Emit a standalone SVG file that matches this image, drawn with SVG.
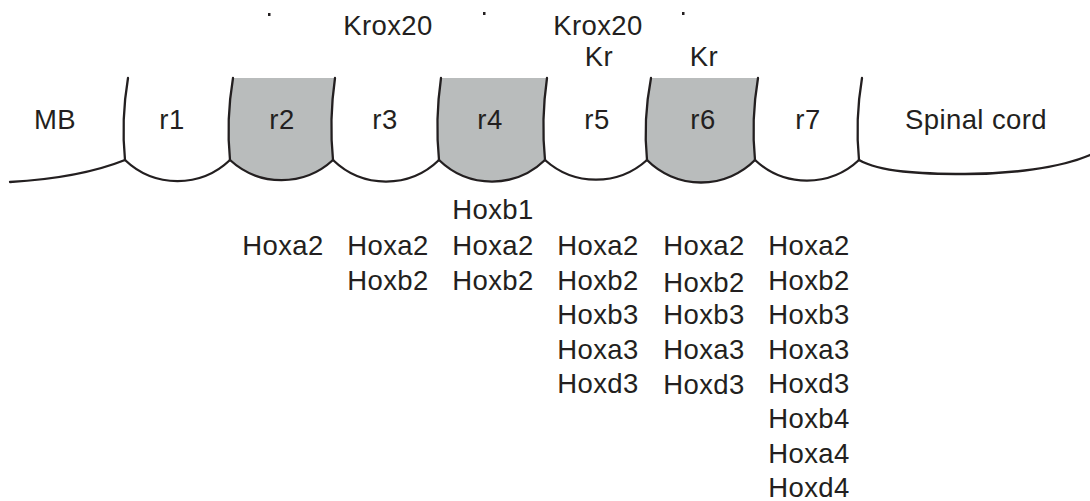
<svg xmlns="http://www.w3.org/2000/svg" width="1090" height="501" viewBox="0 0 1090 501">
<style>
text{font-family:"Liberation Sans",Arial,Helvetica,sans-serif;font-size:27.5px;letter-spacing:0.4px;fill:#231f20;text-anchor:middle}
.ln{fill:none;stroke:#231f20;stroke-width:2.3;stroke-linecap:round}
.sh{fill:#b9bcbc;stroke:none}
.dot{fill:#231f20}
</style>
<rect width="1090" height="501" fill="#fff"/>
<g id="marks">
<rect class="dot" x="268" y="13" width="2.5" height="3"/>
<rect class="dot" x="483" y="12" width="2.5" height="3"/>
<rect class="dot" x="682" y="12" width="2.5" height="3"/>
</g>
<g id="top-labels">
<text x="388" y="35">Krox20</text>
<text x="598" y="35">Krox20</text>
<text x="599" y="66">Kr</text>
<text x="704" y="66">Kr</text>
</g>
<g id="MB">
<path class="ln" d="M10,182 Q80,178 125,160"/>
<text x="55" y="129">MB</text>
</g>
<g id="r1">
<path class="ln" d="M128,78 Q121,120 125,160"/>
<path class="ln" d="M125,160 A76,76 0 0 0 230,160"/>
<text x="172" y="129">r1</text>
</g>
<g id="r2">
<path class="sh" d="M233,78 L335,78 Q329,120 333,160 A76,76 0 0 1 230,160 Q226,120 233,78 Z"/>
<path class="ln" d="M233,78 Q226,120 230,160"/>
<path class="ln" d="M230,160 A76,76 0 0 0 333,160"/>
<text x="282" y="129">r2</text>
</g>
<g id="r3">
<path class="ln" d="M335,78 Q329,120 333,160"/>
<path class="ln" d="M333,160 A76,76 0 0 0 439,160"/>
<text x="385" y="129">r3</text>
</g>
<g id="r4">
<path class="sh" d="M441,78 L547,78 Q541,120 545,160 A76,76 0 0 1 439,160 Q435,120 441,78 Z"/>
<path class="ln" d="M441,78 Q435,120 439,160"/>
<path class="ln" d="M439,160 A76,76 0 0 0 545,160"/>
<text x="490" y="129">r4</text>
</g>
<g id="r5">
<path class="ln" d="M547,78 Q541,120 545,160"/>
<path class="ln" d="M545,160 A76,76 0 0 0 647,160"/>
<text x="597" y="129">r5</text>
</g>
<g id="r6">
<path class="sh" d="M651,78 L758,78 Q751,120 755,160 A76,76 0 0 1 647,160 Q643,120 651,78 Z"/>
<path class="ln" d="M651,78 Q643,120 647,160"/>
<path class="ln" d="M647,160 A76,76 0 0 0 755,160"/>
<text x="703" y="129">r6</text>
</g>
<g id="r7">
<path class="ln" d="M758,78 Q751,120 755,160"/>
<path class="ln" d="M755,160 A76,76 0 0 0 859,160"/>
<text x="808" y="129">r7</text>
</g>
<g id="spinal-cord">
<path class="ln" d="M862,78 Q855,120 859,160"/>
<path class="ln" d="M859,160 C880,172 920,174 965,174 C1010,174 1060,168 1090,155"/>
<text x="976" y="129">Spinal cord</text>
</g>
<g id="hox-r2">
<text x="283" y="255">Hoxa2</text>
</g>
<g id="hox-r3">
<text x="388" y="255">Hoxa2</text>
<text x="388" y="290">Hoxb2</text>
</g>
<g id="hox-r4">
<text x="493" y="219">Hoxb1</text>
<text x="493" y="255">Hoxa2</text>
<text x="493" y="290">Hoxb2</text>
</g>
<g id="hox-r5">
<text x="598" y="255">Hoxa2</text>
<text x="598" y="290">Hoxb2</text>
<text x="598" y="324">Hoxb3</text>
<text x="598" y="359">Hoxa3</text>
<text x="598" y="393">Hoxd3</text>
</g>
<g id="hox-r6">
<text x="704" y="255">Hoxa2</text>
<text x="704" y="292">Hoxb2</text>
<text x="704" y="324">Hoxb3</text>
<text x="704" y="359">Hoxa3</text>
<text x="704" y="394">Hoxd3</text>
</g>
<g id="hox-r7">
<text x="809" y="255">Hoxa2</text>
<text x="809" y="290">Hoxb2</text>
<text x="809" y="324">Hoxb3</text>
<text x="809" y="359">Hoxa3</text>
<text x="809" y="393">Hoxd3</text>
<text x="809" y="428">Hoxb4</text>
<text x="809" y="463">Hoxa4</text>
<text x="809" y="497">Hoxd4</text>
</g>
</svg>
